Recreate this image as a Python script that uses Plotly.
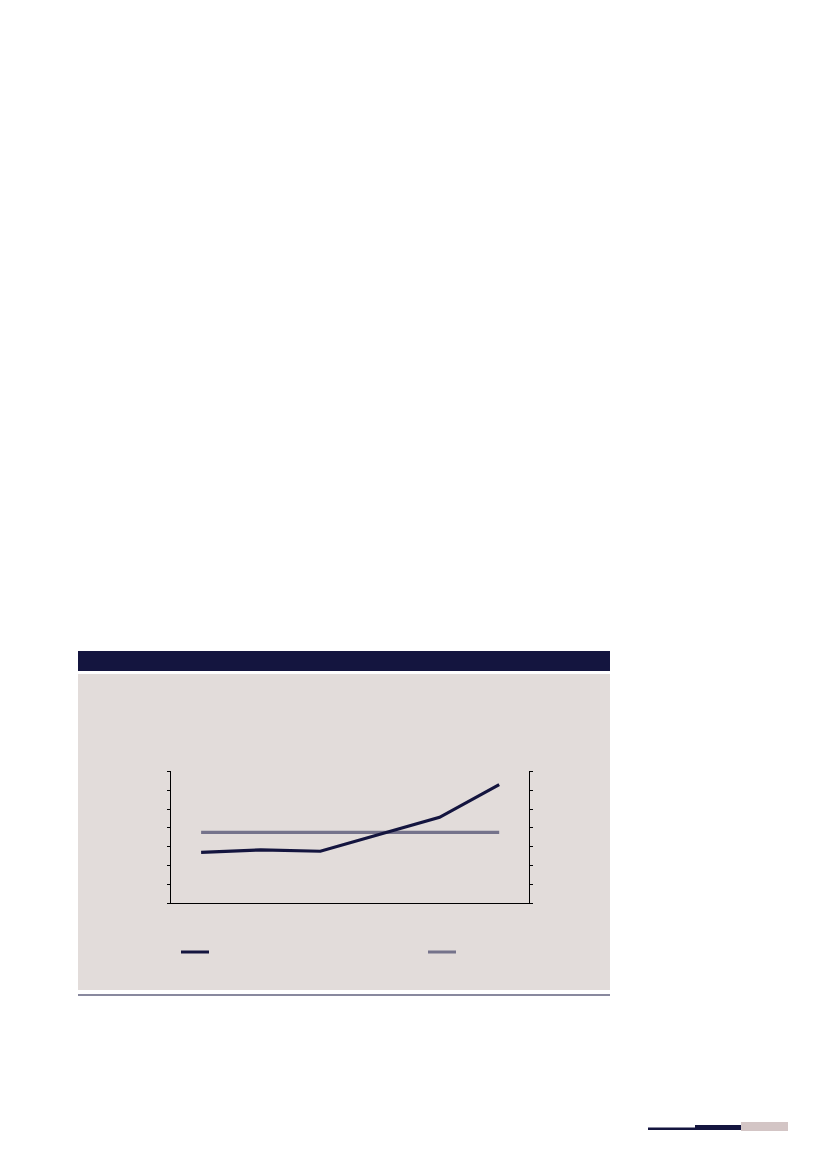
import plotly.graph_objects as go

W, H = 827, 1169
OFF = 8  # default page margin of the browser body

categories = ["1", "2", "3", "4", "5", "6"]
series_main = [2.70, 2.83, 2.76, 3.65, 4.56, 6.29]
series_ref = [3.76, 3.76, 3.76, 3.76, 3.76, 3.76]

DARK = "#14153F"
GREY = "#75738B"
PANEL = "#E2DCDA"
PINK = "#D3C5C5"


def px(x):
    return (x - OFF) / W


def py(y):
    return 1 - (y - OFF) / H


fig = go.Figure()
fig.add_trace(go.Scatter(x=categories, y=series_ref, mode="lines",
                         line=dict(color=GREY, width=3.2), showlegend=False,
                         hoverinfo="skip"))
fig.add_trace(go.Scatter(x=categories, y=series_main, mode="lines",
                         line=dict(color=DARK, width=3.2), showlegend=False,
                         hoverinfo="skip"))
# invisible trace to draw the right axis
fig.add_trace(go.Scatter(x=categories, y=series_main, mode="lines", yaxis="y2",
                         line=dict(color="rgba(0,0,0,0)", width=0),
                         showlegend=False, hoverinfo="skip"))

shapes = [
    # header bar
    dict(type="rect", xref="paper", yref="paper", x0=px(78), x1=px(610),
         y0=py(671), y1=py(651), fillcolor=DARK, line=dict(width=0), layer="below"),
    # panel
    dict(type="rect", xref="paper", yref="paper", x0=px(78), x1=px(610),
         y0=py(990), y1=py(674), fillcolor=PANEL, line=dict(width=0), layer="below"),
    # bottom rule
    dict(type="line", xref="paper", yref="paper", x0=px(78), x1=px(610),
         y0=py(995), y1=py(995), line=dict(color=DARK, width=1.2)),
    # legend swatches
    dict(type="line", xref="paper", yref="paper", x0=px(181), x1=px(209),
         y0=py(952), y1=py(952), line=dict(color=DARK, width=3)),
    dict(type="line", xref="paper", yref="paper", x0=px(428), x1=px(456),
         y0=py(952), y1=py(952), line=dict(color=GREY, width=3)),
    # footer bars
    dict(type="rect", xref="paper", yref="paper", x0=px(648), x1=px(695),
         y0=py(1130), y1=py(1127.5), fillcolor=DARK, line=dict(width=0)),
    dict(type="rect", xref="paper", yref="paper", x0=px(695), x1=px(741),
         y0=py(1130), y1=py(1125), fillcolor=DARK, line=dict(width=0)),
    dict(type="rect", xref="paper", yref="paper", x0=px(741), x1=px(788),
         y0=py(1131), y1=py(1122), fillcolor=PINK, line=dict(width=0)),
]

ydom = [py(903.3), py(771.3)]

fig.update_layout(
    width=W, height=H,
    margin=dict(l=0, r=0, t=0, b=0),
    paper_bgcolor="white",
    plot_bgcolor="rgba(0,0,0,0)",
    shapes=shapes,
    showlegend=False,
    xaxis=dict(domain=[px(171.3), px(529)], range=[-0.5, 5.5], type="category",
               showline=True, linecolor="black", linewidth=1, showgrid=False,
               zeroline=False, ticks="", showticklabels=False),
    yaxis=dict(domain=ydom, range=[0, 7], dtick=1, showline=True,
               linecolor="black", linewidth=1, ticks="outside", ticklen=3,
               tickcolor="black", tickwidth=1, showgrid=False, zeroline=False,
               showticklabels=False),
    yaxis2=dict(overlaying="y", side="right", range=[0, 7], dtick=1,
                showline=True, linecolor="black", linewidth=1,
                ticks="outside", ticklen=3, tickcolor="black", tickwidth=1,
                showgrid=False, zeroline=False, showticklabels=False),
)

fig.write_html("out.html")
